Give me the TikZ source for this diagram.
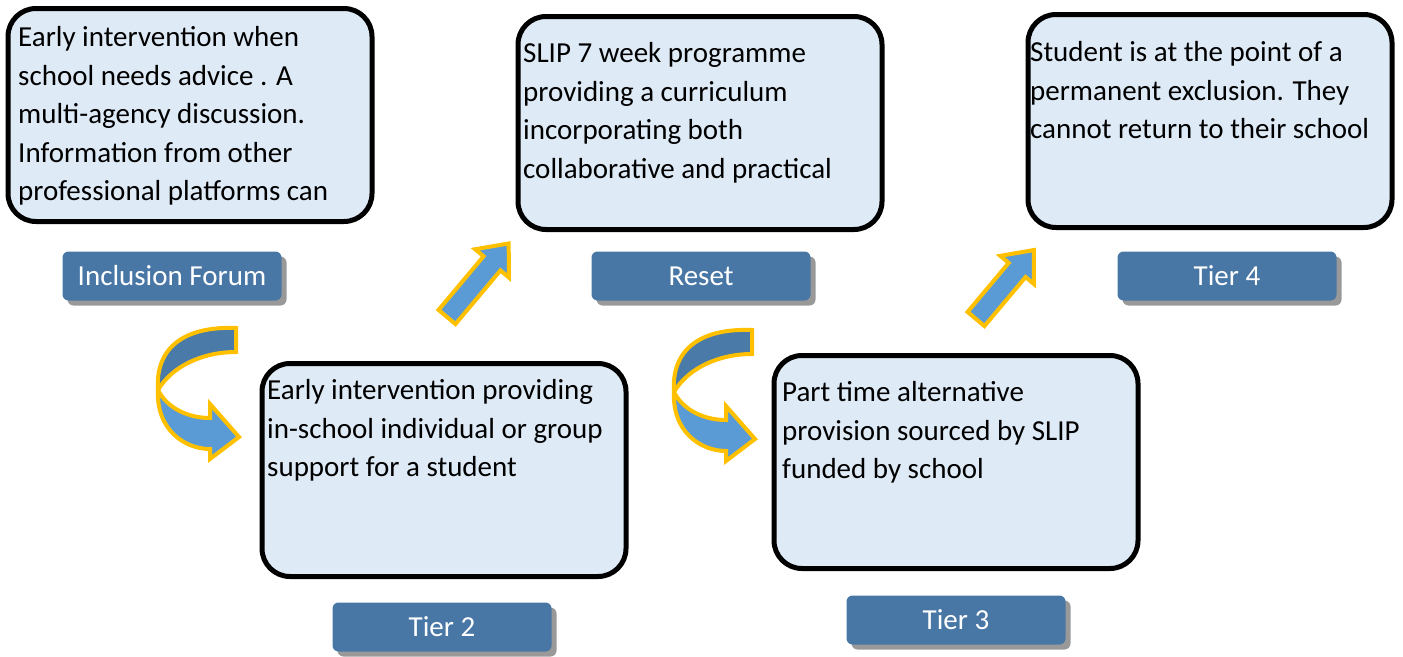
\documentclass[tikz,border=0pt]{standalone}
\usepackage{fontspec}
\setmainfont{Carlito}
\usetikzlibrary{shapes,arrows,positioning,shadows,calc}

\definecolor{panelfill}{HTML}{DEEAF6}
\definecolor{tagblue}{HTML}{4877A6}
\definecolor{arrowgold}{HTML}{FFC000}
\definecolor{arrowlight}{HTML}{5B9BD5}
\definecolor{arrowdark}{HTML}{4A7BA8}

\begin{document}
\begin{tikzpicture}[
    x=1pt, y=-1pt,
    panel/.style={rectangle, draw=black, line width=5pt, rounded corners=28pt, fill=panelfill, minimum width=364pt, minimum height=213pt},
    paneltext/.style={anchor=north west, align=left, inner sep=0pt, font=\fontsize{29}{38.5}\selectfont},
    tag/.style={rectangle, rounded corners=6pt, fill=tagblue, text=white, minimum width=219pt, minimum height=49pt, font=\fontsize{29}{35}\selectfont, drop shadow={shadow xshift=5pt, shadow yshift=-5pt, fill=black!40, opacity=1}},
    bandarrow/.style={draw=arrowgold, line width=4pt}
]
\useasboundingbox (0,0) rectangle (1403,656);

% Panels
\node[panel] (forum) at (190,115) {};
\node[panel] (reset) at (700,123) {};
\node[panel] (tierfour) at (1210,121) {};
\node[panel] (tiertwo) at (444,470) {};
\node[panel] (tierthree) at (956,462) {};

% Panel texts
\node[paneltext] (forumtext) at (18,26.5) {Early intervention when\\school needs advice . A\\multi-agency discussion.\\Information from other\\professional platforms can};
\node[paneltext] (resettext) at (523,42.5) {SLIP 7 week programme\\providing a curriculum\\incorporating both\\collaborative and practical};
\node[paneltext] (tierfourtext) at (1030,41.5) {Student is at the point of a\\permanent exclusion. They\\cannot return to their school};
\node[paneltext] (tiertwotext) at (267,379.5) {Early intervention providing\\in-school individual or group\\support for a student};
\node[paneltext] (tierthreetext) at (782,381.5) {Part time alternative\\provision sourced by SLIP\\funded by school};

% Tags
\node[tag] (forumtag) at (172,276) {Inclusion Forum};
\node[tag] (resettag) at (701,276) {Reset};
\node[tag] (tierfourtag) at (1227,276) {Tier 4};
\node[tag] (tiertwotag) at (442,627) {Tier 2};
\node[tag] (tierthreetag) at (956,620) {Tier 3};

% Curved arrows
\foreach \dx/\dy in {0/0, 516/2} {
  \begin{scope}[shift={(\dx,\dy)}]
    \draw[bandarrow, fill=arrowdark] (236,328) .. controls (185,326) and (155,347) .. (158,390)
      .. controls (172,366) and (203,352) .. (236,352) -- cycle;
    \draw[bandarrow, fill=arrowlight] (158,390) .. controls (156,430) and (185,449) .. (210,449)
      -- (210,459) -- (239,437) -- (210,404) -- (210,418)
      .. controls (188,418) and (167,408) .. (158,390) -- cycle;
  \end{scope}
}

% Straight arrows
\foreach \tx/\ty/\len in {447/317/96, 976/319/90} {
  \begin{scope}[shift={(\tx,\ty)}, rotate=50]
    \draw[bandarrow, fill=arrowlight] (0,-11) -- (\len-26,-11) -- (\len-26,-22) -- (\len,0)
      -- (\len-26,22) -- (\len-26,11) -- (0,11) -- cycle;
  \end{scope}
}

\end{tikzpicture}
\end{document}
